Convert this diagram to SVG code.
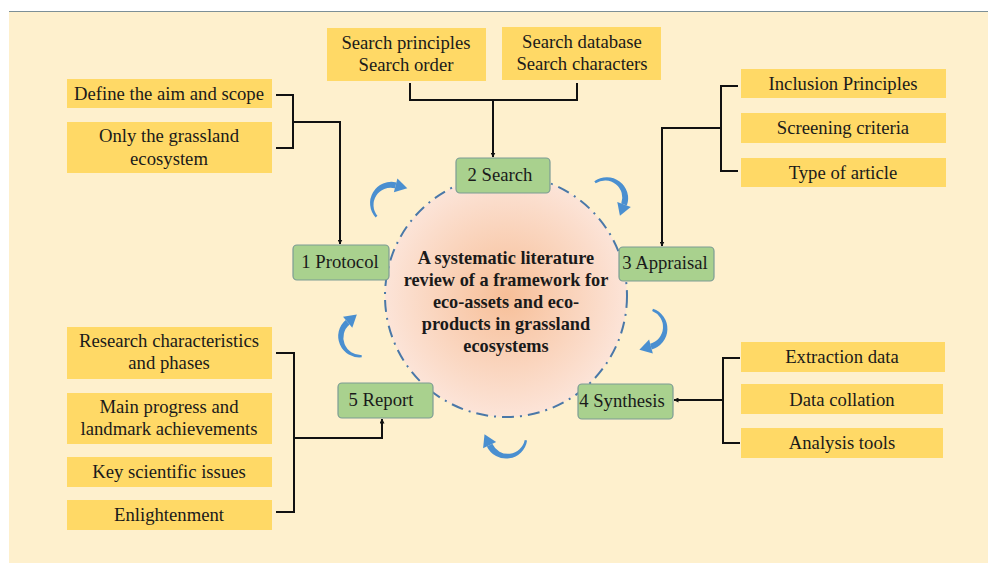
<svg xmlns="http://www.w3.org/2000/svg" width="988" height="563" viewBox="0 0 988 563">
<defs>
<style>
.t{font-family:"Liberation Serif","Times New Roman",serif;font-size:18.7px;fill:#1a1a1a;text-anchor:middle}
.b{font-weight:bold;font-size:18.3px}
.y{fill:#ffd966}
.g{fill:#a9d18e;stroke:#7c9c94;stroke-width:1.2}
.c{fill:none;stroke:#111;stroke-width:2}
.ca{fill:#4a8fd0}
</style>
<radialGradient id="cg" cx="0.5" cy="0.5" r="0.5">
<stop offset="0" stop-color="#f7bf98"/>
<stop offset="1" stop-color="#fce4d8"/>
</radialGradient>
<marker id="ah" viewBox="0 0 10 10" refX="9" refY="5" markerWidth="5" markerHeight="5" orient="auto" markerUnits="userSpaceOnUse">
<path d="M0,0 L10,5 L0,10 Z" fill="#111"/>
</marker>
<g id="carrow">
<path class="ca" d="M2.95,-16.74 A17.7,17.7 0 0 1 7.82,16.77 L5.71,12.24 A14.3,14.3 0 0 0 2.60,-14.77 Z"/>
<path class="ca" d="M4.23,9.06 L9.30,19.94 L-2.30,18.73 Z"/>
</g>
</defs>
<rect x="0" y="0" width="988" height="563" fill="#ffffff"/>
<rect x="9" y="11" width="979" height="552" fill="#fef0cd"/>
<line x1="9" y1="11.5" x2="988" y2="11.5" stroke="#7d8f96" stroke-width="1"/>

<g id="center">
<circle cx="506" cy="296" r="121" fill="url(#cg)" stroke="#4a78a8" stroke-width="2" stroke-dasharray="12 6 2 6"/>
<text class="t b" x="506" y="264">A systematic literature</text>
<text class="t b" x="506" y="286">review of a framework for</text>
<text class="t b" x="506" y="308">eco-assets and eco-</text>
<text class="t b" x="506" y="330">products in grassland</text>
<text class="t b" x="506" y="352">ecosystems</text>
</g>

<g id="cycle-arrows">
<use href="#carrow" transform="translate(391,204) rotate(219) scale(1.2)"/>
<use href="#carrow" transform="translate(606,198) rotate(315) scale(1.2)"/>
<use href="#carrow" transform="translate(646,328) rotate(10) scale(1.2)"/>
<use href="#carrow" transform="translate(507,437) rotate(90) scale(1.2)"/>
<use href="#carrow" transform="translate(360,337) rotate(165) scale(1.2)"/>
</g>

<g id="connectors">
<path class="c" d="M276,95 H293 V148 H276"/>
<path class="c" d="M293,122 H340 V244" marker-end="url(#ah)"/>
<path class="c" d="M410,83 V100 H577 V83"/>
<path class="c" d="M493,100 V157" marker-end="url(#ah)"/>
<path class="c" d="M738,86 H721 V171 H738"/>
<path class="c" d="M721,128 H662 V246" marker-end="url(#ah)"/>
<path class="c" d="M740,358 H723 V443 H740"/>
<path class="c" d="M723,400 H674" marker-end="url(#ah)"/>
<path class="c" d="M276,353 H294 V512 H276"/>
<path class="c" d="M294,438 H382 V419" marker-end="url(#ah)"/>
</g>

<g id="n-search"><rect class="g" x="456" y="158" width="94" height="35" rx="4"/><text class="t" x="500" y="181">2 Search</text></g>
<g id="n-protocol"><rect class="g" x="293" y="245" width="96" height="35" rx="4"/><text class="t" x="340" y="268">1 Protocol</text></g>
<g id="n-appraisal"><rect class="g" x="619" y="247" width="95" height="34" rx="4"/><text class="t" x="665" y="269">3 Appraisal</text></g>
<g id="n-synthesis"><rect class="g" x="578" y="384" width="95" height="35" rx="4"/><text class="t" x="622" y="407">4 Synthesis</text></g>
<g id="n-report"><rect class="g" x="338" y="383" width="95" height="35" rx="4"/><text class="t" x="381" y="406">5 Report</text></g>

<g id="n-define"><rect class="y" x="67" y="79" width="205" height="29"/><text class="t" x="169" y="100">Define the aim and scope</text></g>
<g id="n-grassland"><rect class="y" x="67" y="122" width="205" height="51"/><text class="t" x="169" y="142">Only the grassland</text><text class="t" x="169" y="165">ecosystem</text></g>

<g id="n-principles"><rect class="y" x="327" y="28" width="159" height="53"/><text class="t" x="406" y="49">Search principles</text><text class="t" x="406" y="71">Search order</text></g>
<g id="n-database"><rect class="y" x="502" y="27" width="159" height="53"/><text class="t" x="582" y="48">Search database</text><text class="t" x="582" y="70">Search characters</text></g>

<g id="n-inclusion"><rect class="y" x="741" y="69" width="205" height="29"/><text class="t" x="843" y="90">Inclusion Principles</text></g>
<g id="n-screening"><rect class="y" x="741" y="113" width="205" height="30"/><text class="t" x="843" y="134">Screening criteria</text></g>
<g id="n-type"><rect class="y" x="741" y="158" width="205" height="29"/><text class="t" x="843" y="179">Type of article</text></g>

<g id="n-extraction"><rect class="y" x="741" y="342" width="204" height="30"/><text class="t" x="842" y="363">Extraction data</text></g>
<g id="n-collation"><rect class="y" x="741" y="384" width="202" height="30"/><text class="t" x="842" y="406">Data collation</text></g>
<g id="n-analysis"><rect class="y" x="741" y="428" width="202" height="30"/><text class="t" x="842" y="449">Analysis tools</text></g>

<g id="n-research"><rect class="y" x="67" y="327" width="205" height="52"/><text class="t" x="169" y="347">Research characteristics</text><text class="t" x="169" y="369">and phases</text></g>
<g id="n-progress"><rect class="y" x="67" y="393" width="205" height="51"/><text class="t" x="169" y="413">Main progress and</text><text class="t" x="169" y="435">landmark achievements</text></g>
<g id="n-issues"><rect class="y" x="67" y="457" width="205" height="30"/><text class="t" x="169" y="478">Key scientific issues</text></g>
<g id="n-enlight"><rect class="y" x="67" y="500" width="205" height="30"/><text class="t" x="169" y="521">Enlightenment</text></g>
</svg>
